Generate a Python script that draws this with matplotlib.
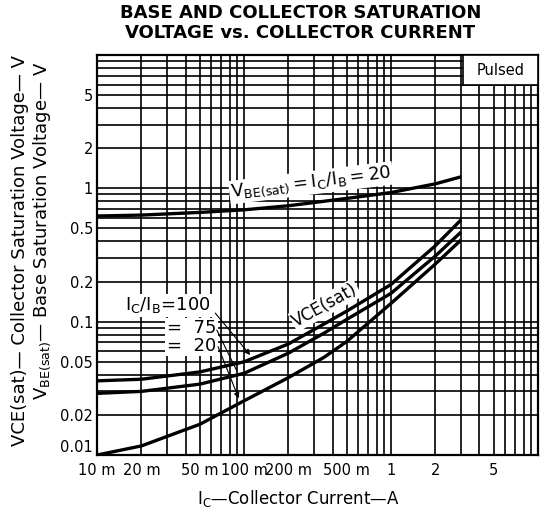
import matplotlib
matplotlib.use("Agg")
import matplotlib.pyplot as plt
from matplotlib.patches import Rectangle
import numpy as np

plt.rcParams['font.family'] = ['DejaVu Sans']
plt.rcParams['mathtext.fontset'] = 'dejavusans'
plt.rcParams['mathtext.default'] = 'regular'

# collector current (A)
ic = [0.01, 0.02, 0.05, 0.1, 0.2, 0.35, 0.5, 1, 2, 3]

# VBE(sat), IC/IB = 20
vbe_20 = [0.62, 0.63, 0.66, 0.69, 0.74, 0.80, 0.84, 0.93, 1.08, 1.22]
# VCE(sat) for IC/IB = 100, 75, 20
vce_100 = [0.036, 0.037, 0.042, 0.050, 0.068, 0.096, 0.12, 0.19, 0.37, 0.58]
vce_75 = [0.029, 0.030, 0.034, 0.041, 0.058, 0.082, 0.104, 0.163, 0.31, 0.47]
vce_20 = [0.010, 0.0117, 0.017, 0.0255, 0.038, 0.054, 0.071, 0.137, 0.27, 0.41]

xticks = [0.01, 0.02, 0.05, 0.1, 0.2, 0.5, 1, 2, 5]
xlabels = ['10 m', '20 m', '50 m', '100 m', '200 m', '500 m', '1', '2', '5']
yticks = [0.01, 0.02, 0.05, 0.1, 0.2, 0.5, 1, 2, 5]
ylabels = ['0.01', '0.02', '0.05', '0.1', '0.2', '0.5', '1', '2', '5']

fig = plt.figure(figsize=(5.4, 5.15), dpi=100)
ax = fig.add_axes([0.18, 0.1165, 0.816, 0.7767])
ax.set_xscale('log')
ax.set_yscale('log')
ax.set_xlim(0.01, 10)
ax.set_ylim(0.01, 10)

ax.grid(which='both', color='black', lw=1.2, zorder=1)
ax.set_axisbelow(True)
for s in ax.spines.values():
    s.set_linewidth(1.6)

for ys in [vbe_20, vce_100, vce_75, vce_20]:
    ax.plot(ic, ys, color='black', lw=2.4, zorder=3, solid_capstyle='butt')

ax.set_xticks(xticks)
ax.set_xticklabels(xlabels)
ax.set_yticks(yticks)
ax.set_yticklabels(ylabels)
ax.xaxis.set_minor_formatter(matplotlib.ticker.NullFormatter())
ax.yaxis.set_minor_formatter(matplotlib.ticker.NullFormatter())
ax.tick_params(which='both', length=0, labelsize=10.5)
ax.tick_params(axis='x', pad=6)
ax.tick_params(axis='y', pad=3)
# bottom y label sits a bit above the corner, like the datasheet
ax.get_yticklabels()[0].set_verticalalignment('bottom')

wb = dict(facecolor='white', edgecolor='none', pad=1.0)

# Pulsed box
ax.add_patch(Rectangle((0.83, 0.925), 0.17, 0.075, transform=ax.transAxes,
                       facecolor='white', edgecolor='black', lw=1.2, zorder=4))
ax.text(0.915, 0.962, 'Pulsed', transform=ax.transAxes, ha='center', va='center',
        fontsize=10.5, zorder=5)

ax.text(0.286, 1.1, r'$V_{BE(sat)}=I_C/I_B=20$', ha='center', va='center',
        fontsize=13, rotation=7, bbox=wb, zorder=4)
ax.text(0.356, 0.133, 'VCE(sat)', ha='center', va='center',
        fontsize=12, rotation=29, bbox=wb, zorder=4)

ax.text(0.0155, 0.133, r'$I_C/I_B$=100', ha='left', va='center',
        fontsize=13, bbox=wb, zorder=4)
ax.text(0.0298, 0.0897, '=  75', ha='left', va='center', fontsize=13, bbox=wb, zorder=4)
ax.text(0.0298, 0.0658, '=  20', ha='left', va='center', fontsize=13, bbox=wb, zorder=4)
ax.annotate('', xy=(0.11, 0.0562), xytext=(0.0636, 0.116),
            arrowprops=dict(arrowstyle='-|>', color='black', lw=0.8, mutation_scale=8,
                            shrinkA=0, shrinkB=0), zorder=5)
ax.annotate('', xy=(0.089, 0.043), xytext=(0.0652, 0.0866),
            arrowprops=dict(arrowstyle='-', color='black', lw=0.8,
                            shrinkA=0, shrinkB=0), zorder=5)
ax.annotate('', xy=(0.092, 0.0266), xytext=(0.0665, 0.0649),
            arrowprops=dict(arrowstyle='-|>', color='black', lw=0.8, mutation_scale=8,
                            shrinkA=0, shrinkB=0), zorder=5)

fig.text(0.556, 0.974, 'BASE AND COLLECTOR SATURATION', ha='center', va='center',
         fontsize=13, fontweight='bold')
fig.text(0.556, 0.935, 'VOLTAGE vs. COLLECTOR CURRENT', ha='center', va='center',
         fontsize=13, fontweight='bold')

fig.text(0.552, 0.033, r'$I_C$' + '\u2014Collector Current\u2014A', ha='center',
         va='center', fontsize=12)
fig.text(0.037, 0.513, 'VCE(sat)\u2014 Collector Saturation Voltage\u2014 V', rotation=90,
         ha='center', va='center', fontsize=13)
fig.text(0.078, 0.551, r'$V_{BE(sat)}$' + '\u2014 Base Saturation Voltage\u2014 V',
         rotation=90, ha='center', va='center', fontsize=13)

fig.savefig('out.png', dpi=100)
